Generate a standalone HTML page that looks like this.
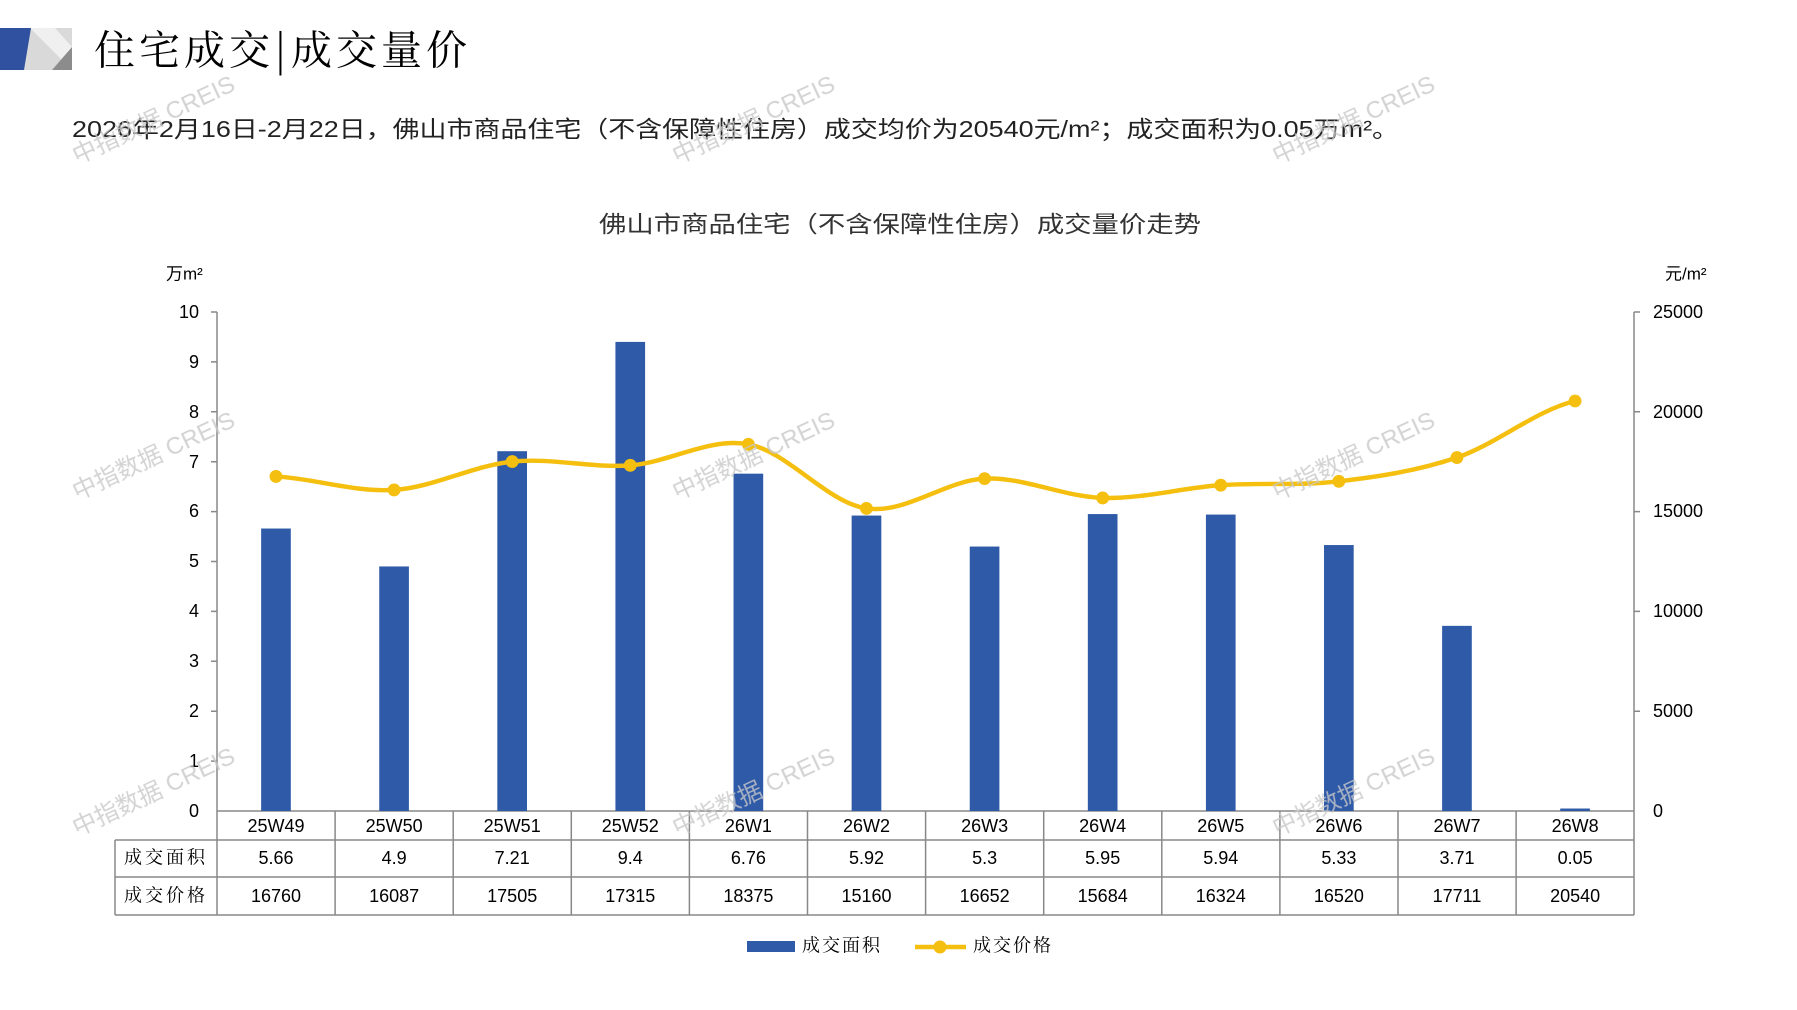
<!DOCTYPE html>
<html><head><meta charset="utf-8"><style>
html,body{margin:0;padding:0;background:#fff;}
svg{display:block;font-family:"Liberation Sans","Noto Sans CJK SC",sans-serif;}
</style></head><body>
<svg width="1797" height="1010" viewBox="0 0 1797 1010" xmlns="http://www.w3.org/2000/svg">
<rect x="24" y="28" width="48" height="42" fill="#d9d9d9"/>
<polygon points="30,28 72,70 72,47 55,28" fill="#fff" opacity="0.6"/>
<polygon points="72,47 72,70 52,70" fill="#8c8c8c"/>
<polygon points="0,28 31,28 24,70 0,70" fill="#3050a0"/>
<text x="94" y="54" font-size="41" font-family="'Noto Serif CJK SC','Noto Sans CJK SC',serif" letter-spacing="4" dominant-baseline="middle">住宅成交|成交量价</text>
<text x="72" y="131" font-size="23" dominant-baseline="middle" textLength="1327" lengthAdjust="spacingAndGlyphs" fill="#222">2026年2月16日-2月22日，佛山市商品住宅（不含保障性住房）成交均价为20540元/m²；成交面积为0.05万m²。</text>
<text x="599" y="226" font-size="23" dominant-baseline="middle" textLength="602" lengthAdjust="spacingAndGlyphs" fill="#333">佛山市商品住宅（不含保障性住房）成交量价走势</text>
<text x="166" y="275" font-size="17" dominant-baseline="middle">万m²</text>
<text x="1665" y="275" font-size="17" dominant-baseline="middle">元/m²</text>
<g stroke="#888" stroke-width="1.5" fill="none">
<line x1="217" y1="312" x2="217" y2="811"/>
<line x1="1634" y1="312" x2="1634" y2="811"/>
<line x1="217" y1="811" x2="1634" y2="811"/>
<path d="M211 312H217M211 361.9H217M211 411.8H217M211 461.7H217M211 511.6H217M211 561.5H217M211 611.4H217M211 661.3H217M211 711.2H217M211 761.1H217"/>
<path d="M1634 312H1640M1634 411.8H1640M1634 511.6H1640M1634 611.4H1640M1634 711.2H1640"/>
</g>
<g font-size="18" text-anchor="end" dominant-baseline="middle">
<text x="199" y="313">10</text><text x="199" y="363">9</text><text x="199" y="413">8</text><text x="199" y="463">7</text><text x="199" y="512">6</text><text x="199" y="562">5</text><text x="199" y="612">4</text><text x="199" y="662">3</text><text x="199" y="712">2</text><text x="199" y="762">1</text><text x="199" y="812">0</text>
</g>
<g font-size="18" dominant-baseline="middle">
<text x="1653" y="313">25000</text><text x="1653" y="413">20000</text><text x="1653" y="512">15000</text><text x="1653" y="612">10000</text><text x="1653" y="712">5000</text><text x="1653" y="812">0</text>
</g>
<g transform="matrix(0.98911,0,0,0.9901,0.3,0.108)">
<g fill="#2f5aa8">
<rect x="263.7" y="533.7" width="30" height="285.3"/>
<rect x="383.1" y="572" width="30" height="247"/>
<rect x="502.5" y="455.6" width="30" height="363.4"/>
<rect x="621.9" y="345.2" width="30" height="473.8"/>
<rect x="741.3" y="478.3" width="30" height="340.7"/>
<rect x="860.7" y="520.6" width="30" height="298.4"/>
<rect x="980.1" y="551.9" width="30" height="267.1"/>
<rect x="1099.5" y="519.1" width="30" height="299.9"/>
<rect x="1218.9" y="519.6" width="30" height="299.4"/>
<rect x="1338.3" y="550.4" width="30" height="268.6"/>
<rect x="1457.7" y="632" width="30" height="187"/>
<rect x="1577.1" y="816.5" width="30" height="2.5"/>
</g>
<path d="M278.7,481.1 C318.5,483.4 358.3,497.2 398.1,494.7 C437.9,492.2 477.7,470.2 517.5,466.1 C557.3,462.0 597.1,472.8 636.9,469.9 C676.7,467.0 716.5,441.4 756.3,448.6 C796.1,455.9 835.9,507.6 875.7,513.4 C915.5,519.2 955.3,485.1 995.1,483.3 C1034.9,481.5 1074.7,501.7 1114.5,502.8 C1154.3,503.9 1194.1,492.7 1233.9,489.9 C1273.7,487.1 1313.5,490.7 1353.3,486.0 C1393.1,481.4 1432.9,475.5 1472.7,462.0 C1512.5,448.5 1552.3,414.4 1592.1,404.9" fill="none" stroke="#f5bf0f" stroke-width="4.5"/>
<g fill="#f5bf0f">
<circle cx="278.7" cy="481.1" r="6.5"/><circle cx="398.1" cy="494.7" r="6.5"/><circle cx="517.5" cy="466.1" r="6.5"/><circle cx="636.9" cy="469.9" r="6.5"/><circle cx="756.3" cy="448.6" r="6.5"/><circle cx="875.7" cy="513.4" r="6.5"/><circle cx="995.1" cy="483.3" r="6.5"/><circle cx="1114.5" cy="502.8" r="6.5"/><circle cx="1233.9" cy="489.9" r="6.5"/><circle cx="1353.3" cy="486.0" r="6.5"/><circle cx="1472.7" cy="462.0" r="6.5"/><circle cx="1592.1" cy="404.9" r="6.5"/>
</g>
</g>
<g stroke="#888" stroke-width="1.5" fill="none">
<path d="M217 840H1634M115 840H217M115 877H1634M115 915H1634M115 840V915"/>
<path d="M217 811V915M335.1 811V915M453.2 811V915M571.3 811V915M689.4 811V915M807.5 811V915M925.6 811V915M1043.7 811V915M1161.8 811V915M1279.9 811V915M1398 811V915M1516.1 811V915M1634 811V915"/>
</g>
<g font-size="18" text-anchor="middle" dominant-baseline="middle">
<text x="276" y="827">25W49</text><text x="394.1" y="827">25W50</text><text x="512.2" y="827">25W51</text><text x="630.3" y="827">25W52</text><text x="748.4" y="827">26W1</text><text x="866.5" y="827">26W2</text><text x="984.6" y="827">26W3</text><text x="1102.7" y="827">26W4</text><text x="1220.8" y="827">26W5</text><text x="1338.9" y="827">26W6</text><text x="1457" y="827">26W7</text><text x="1575.1" y="827">26W8</text>
<text x="166" y="859" font-family="'Noto Serif CJK SC',serif" letter-spacing="3">成交面积</text>
<text x="166" y="897" font-family="'Noto Serif CJK SC',serif" letter-spacing="3">成交价格</text>
<text x="276" y="859">5.66</text><text x="394.1" y="859">4.9</text><text x="512.2" y="859">7.21</text><text x="630.3" y="859">9.4</text><text x="748.4" y="859">6.76</text><text x="866.5" y="859">5.92</text><text x="984.6" y="859">5.3</text><text x="1102.7" y="859">5.95</text><text x="1220.8" y="859">5.94</text><text x="1338.9" y="859">5.33</text><text x="1457" y="859">3.71</text><text x="1575.1" y="859">0.05</text>
<text x="276" y="897">16760</text><text x="394.1" y="897">16087</text><text x="512.2" y="897">17505</text><text x="630.3" y="897">17315</text><text x="748.4" y="897">18375</text><text x="866.5" y="897">15160</text><text x="984.6" y="897">16652</text><text x="1102.7" y="897">15684</text><text x="1220.8" y="897">16324</text><text x="1338.9" y="897">16520</text><text x="1457" y="897">17711</text><text x="1575.1" y="897">20540</text>
</g>
<rect x="747" y="941" width="48" height="11" fill="#2f5aa8"/>
<text x="802" y="947" font-size="18" dominant-baseline="middle" font-family="'Noto Serif CJK SC',serif" letter-spacing="2">成交面积</text>
<line x1="915" y1="947" x2="966" y2="947" stroke="#f5bf0f" stroke-width="4.5"/>
<circle cx="940" cy="947" r="6.5" fill="#f5bf0f"/>
<text x="973" y="947" font-size="18" dominant-baseline="middle" font-family="'Noto Serif CJK SC',serif" letter-spacing="2">成交价格</text>
<g fill="#c8c8c8" font-size="24" opacity="0.8" text-anchor="middle">
<text transform="translate(157,127) rotate(-25)">中指数据 CREIS</text>
<text transform="translate(757,127) rotate(-25)">中指数据 CREIS</text>
<text transform="translate(1357,127) rotate(-25)">中指数据 CREIS</text>
<text transform="translate(157,463) rotate(-25)">中指数据 CREIS</text>
<text transform="translate(757,463) rotate(-25)">中指数据 CREIS</text>
<text transform="translate(1357,463) rotate(-25)">中指数据 CREIS</text>
<text transform="translate(157,799) rotate(-25)">中指数据 CREIS</text>
<text transform="translate(757,799) rotate(-25)">中指数据 CREIS</text>
<text transform="translate(1357,799) rotate(-25)">中指数据 CREIS</text>
</g>
</svg>
</body></html>
